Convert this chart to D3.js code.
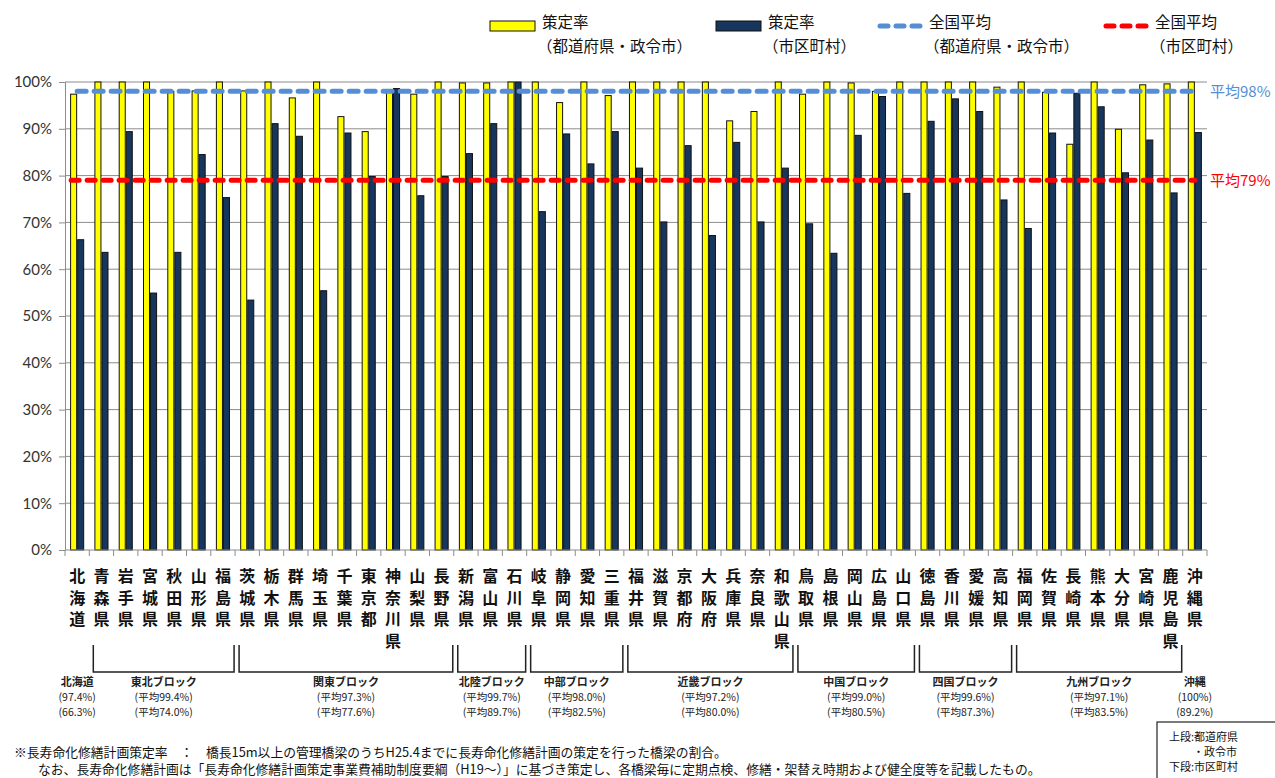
<!DOCTYPE html>
<html lang="ja">
<head>
<meta charset="utf-8">
<title>長寿命化修繕計画策定率</title>
<script src="https://cdn.jsdelivr.net/npm/d3@7"></script>
<style>
  html, body { margin: 0; padding: 0; background: #fff; }
  svg { display: block; }
</style>
</head>
<body>
<svg id="chart" width="1275" height="778"></svg>
<script>
// 都道府県別 長寿命化修繕計画策定率
const prefectures = ["北海道","青森県","岩手県","宮城県","秋田県","山形県","福島県",
  "茨城県","栃木県","群馬県","埼玉県","千葉県","東京都","神奈川県","山梨県","長野県",
  "新潟県","富山県","石川県","岐阜県","静岡県","愛知県","三重県",
  "福井県","滋賀県","京都府","大阪府","兵庫県","奈良県","和歌山県",
  "鳥取県","島根県","岡山県","広島県","山口県","徳島県","香川県","愛媛県","高知県",
  "福岡県","佐賀県","長崎県","熊本県","大分県","宮崎県","鹿児島県","沖縄県"];

// 策定率（都道府県・政令市）, %
const prefRate = [97.4,100,100,100,98.0,98.1,100,
  98.1,100,96.6,100,92.6,89.4,98.2,97.4,100,
  99.8,99.8,100,100,95.6,100,97.1,
  100,100,100,100,91.7,93.7,100,
  97.4,100,99.8,98.0,100,100,100,100,98.9,
  100,97.8,86.7,100,89.9,99.4,99.6,100];

// 策定率（市区町村）, %
const muniRate = [66.3,63.6,89.4,54.9,63.6,84.5,75.3,
  53.4,91.1,88.4,55.4,89.1,79.8,98.6,75.7,79.8,
  84.7,91.1,100,72.3,88.9,82.5,89.4,
  81.6,70.1,86.4,67.2,87.1,70.1,81.6,
  69.7,63.4,88.6,96.9,76.2,91.6,96.4,93.7,74.8,
  68.7,89.1,97.6,94.7,80.6,87.6,76.3,89.2];

// 全国平均, %
const avgPref = 98;
const avgMuni = 79;

const yTicks = [0,10,20,30,40,50,60,70,80,90,100];

// ブロック別平均（上段：都道府県・政令市、下段：市区町村）
const blockNames = ["北海道","東北ブロック","関東ブロック","北陸ブロック","中部ブロック",
  "近畿ブロック","中国ブロック","四国ブロック","九州ブロック","沖縄"];
const blockPref = ["(97.4%)","(平均99.4%)","(平均97.3%)","(平均99.7%)","(平均98.0%)",
  "(平均97.2%)","(平均99.0%)","(平均99.6%)","(平均97.1%)","(100%)"];
const blockMuni = ["(66.3%)","(平均74.0%)","(平均77.6%)","(平均89.7%)","(平均82.5%)",
  "(平均80.0%)","(平均80.5%)","(平均87.3%)","(平均83.5%)","(89.2%)"];
const blockFirst = ["北海道","青森県","茨城県","新潟県","岐阜県","福井県","鳥取県","徳島県","福岡県","沖縄県"];
const blockLast  = ["北海道","福島県","長野県","石川県","三重県","和歌山県","山口県","高知県","鹿児島県","沖縄県"];
const blockBracket = [false,true,true,true,true,true,true,true,true,false];

const seriesKeys = ["pref","muni"];
const seriesColor = { pref: "#FFFF00", muni: "#17365D" };

const legendLabels = [
  ["策定率","（都道府県・政令市）"],
  ["策定率","（市区町村）"],
  ["全国平均","（都道府県・政令市）"],
  ["全国平均","（市区町村）"]
];

const footnotes = [
  "※長寿命化修繕計画策定率　：　橋長15m以上の管理橋梁のうちH25.4までに長寿命化修繕計画の策定を行った橋梁の割合。",
  "なお、長寿命化修繕計画は「長寿命化修繕計画策定事業費補助制度要綱（H19～）」に基づき策定し、各橋梁毎に定期点検、修繕・架替え時期および健全度等を記載したもの。"
];
const noteBoxLines = ["上段:都道府県", "・政令市", "下段:市区町村"];

const rows = prefectures.map((p, i) => ({ name: p, pref: prefRate[i], muni: muniRate[i] }));

// ---- layout ----
const svg = d3.select("#chart");
const plot = { left: 65, right: 1207, top: 82, bottom: 550 };
const jpFont = "'Noto Sans CJK JP', 'Noto Sans', sans-serif";
const numFont = "Lato, 'Open Sans', sans-serif";

const x = d3.scaleBand()
  .domain(prefectures)
  .range([plot.left, plot.right])
  .paddingInner(0.42)
  .paddingOuter(0.21);
const step = x.step();
const xs = d3.scaleBand().domain(seriesKeys).range([0, x.bandwidth()]).padding(0);
const y = d3.scaleLinear().domain([0, 100]).range([plot.bottom, plot.top]);

// gridlines
svg.append("g")
  .selectAll("line")
  .data(yTicks.filter(t => t > 0))
  .join("line")
  .attr("x1", plot.left).attr("x2", plot.right)
  .attr("y1", d => y(d)).attr("y2", d => y(d))
  .attr("stroke", "#8c8c8c").attr("stroke-width", 1);

// y axis
const yAxis = d3.axisLeft(y).tickValues(yTicks).tickFormat(d => d + "%").tickSize(6).tickPadding(7);
const gy = svg.append("g").attr("transform", `translate(${plot.left},0)`).call(yAxis);
gy.select(".domain").attr("stroke", "#8c8c8c");
gy.selectAll(".tick line").attr("stroke", "#8c8c8c");
gy.selectAll(".tick text")
  .attr("font-family", numFont).attr("font-size", 15).attr("fill", "#333");

// bars
const groups = svg.append("g")
  .selectAll("g")
  .data(rows)
  .join("g")
  .attr("transform", d => `translate(${x(d.name)},0)`);
groups.selectAll("rect")
  .data(d => seriesKeys.map(k => ({ key: k, value: d[k] })))
  .join("rect")
  .attr("x", d => xs(d.key) + 0.5)
  .attr("width", xs.bandwidth() - 1)
  .attr("y", d => y(d.value))
  .attr("height", d => y(0) - y(d.value))
  .attr("fill", d => seriesColor[d.key])
  .attr("stroke", "#111")
  .attr("stroke-width", 1);

// x axis (ticks between categories)
const gx = svg.append("g").attr("transform", `translate(0,${plot.bottom})`);
gx.append("line").attr("x1", plot.left).attr("x2", plot.right).attr("y1", 0).attr("y2", 0)
  .attr("stroke", "#8c8c8c");
gx.selectAll("line.tk")
  .data(d3.range(prefectures.length + 1))
  .join("line").attr("class", "tk")
  .attr("x1", i => plot.left + i * step).attr("x2", i => plot.left + i * step)
  .attr("y1", 0).attr("y2", 6)
  .attr("stroke", "#8c8c8c");

// category labels, written vertically one character per row
const labelG = svg.append("g").attr("font-family", jpFont).attr("font-size", 16)
  .attr("font-weight", "bold").attr("fill", "#111").attr("text-anchor", "middle");
prefectures.forEach(p => {
  const cx = x(p) + x.bandwidth() / 2;
  Array.from(p).forEach((ch, k) => {
    labelG.append("text").attr("x", cx).attr("y", 582 + k * 21.5).text(ch);
  });
});

// average lines
const firstC = x(prefectures[0]) + x.bandwidth() / 2;
const lastC = x(prefectures[prefectures.length - 1]) + x.bandwidth() / 2;
svg.append("line")
  .attr("x1", firstC).attr("x2", lastC).attr("y1", y(avgPref)).attr("y2", y(avgPref))
  .attr("stroke", "#558ED5").attr("stroke-width", 5)
  .attr("stroke-dasharray", "9,8").attr("stroke-linecap", "round");
svg.append("line")
  .attr("x1", firstC - 6).attr("x2", lastC).attr("y1", y(avgMuni)).attr("y2", y(avgMuni))
  .attr("stroke", "#FF0000").attr("stroke-width", 5)
  .attr("stroke-dasharray", "8,8").attr("stroke-linecap", "round");

svg.append("text").attr("x", 1210).attr("y", y(avgPref) + 6)
  .attr("font-family", jpFont).attr("font-size", 15).attr("fill", "#558ED5")
  .text("平均" + avgPref + "%");
svg.append("text").attr("x", 1210).attr("y", y(avgMuni) + 6)
  .attr("font-family", jpFont).attr("font-size", 15).attr("fill", "#FF0000")
  .text("平均" + avgMuni + "%");

// block brackets and averages
const blockG = svg.append("g").attr("font-family", jpFont).attr("text-anchor", "middle").attr("fill", "#222");
blockNames.forEach((name, i) => {
  const x0 = x(blockFirst[i]) - step * 0.21;
  const x1 = x(blockLast[i]) + x.bandwidth() + step * 0.21;
  let cx;
  if (blockBracket[i]) {
    const bl = x0 + 4, br = x1 - 1;
    blockG.append("path")
      .attr("d", `M${bl},645 V672 H${br} V645`)
      .attr("fill", "none").attr("stroke", "#222").attr("stroke-width", 1.5);
    cx = (bl + br) / 2;
  } else {
    cx = x(blockFirst[i]) + x.bandwidth() / 2;
  }
  blockG.append("text").attr("x", cx).attr("y", 686).attr("font-size", 11)
    .attr("font-weight", "bold").text(name);
  blockG.append("text").attr("x", cx).attr("y", 701).attr("font-size", 10.5).text(blockPref[i]);
  blockG.append("text").attr("x", cx).attr("y", 716).attr("font-size", 10.5).text(blockMuni[i]);
});

// legend
const legend = svg.append("g").attr("font-family", jpFont).attr("font-size", 15.5).attr("fill", "#111");
const legendX = [490, 716, 877, 1103];
legendLabels.forEach((lbl, i) => {
  const lx = legendX[i];
  if (i < 2) {
    legend.append("rect").attr("x", lx).attr("y", 21).attr("width", 45).attr("height", 10)
      .attr("fill", seriesColor[seriesKeys[i]]).attr("stroke", "#111").attr("stroke-width", 1);
  } else {
    legend.append("line").attr("x1", lx + 3).attr("x2", lx + 44).attr("y1", 26).attr("y2", 26)
      .attr("stroke", i === 2 ? "#558ED5" : "#FF0000").attr("stroke-width", 5)
      .attr("stroke-dasharray", "8,8").attr("stroke-linecap", "round");
  }
  legend.append("text").attr("x", lx + 52).attr("y", 28).text(lbl[0]);
  legend.append("text").attr("x", lx + 47).attr("y", 52).text(lbl[1]);
});

// footnotes
const foot = svg.append("g").attr("font-family", jpFont).attr("font-size", 12.8).attr("fill", "#111");
foot.append("text").attr("x", 14).attr("y", 757).text(footnotes[0]);
foot.append("text").attr("x", 38).attr("y", 774).text(footnotes[1]);

// note box
svg.append("rect").attr("x", 1157).attr("y", 722).attr("width", 130).attr("height", 70)
  .attr("fill", "#fff").attr("stroke", "#222").attr("stroke-width", 1.2);
const nb = svg.append("g").attr("font-family", jpFont).attr("font-size", 11).attr("fill", "#111");
nb.append("text").attr("x", 1169).attr("y", 741).text(noteBoxLines[0]);
nb.append("text").attr("x", 1193).attr("y", 756).text(noteBoxLines[1]);
nb.append("text").attr("x", 1169).attr("y", 771).text(noteBoxLines[2]);
</script>
</body>
</html>
